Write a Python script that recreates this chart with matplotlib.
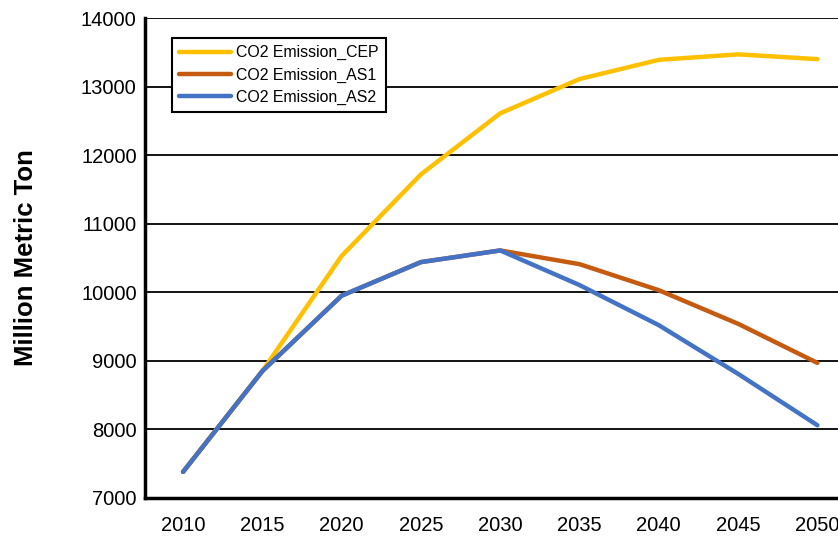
import numpy as np
import matplotlib
matplotlib.use("Agg")
import matplotlib.pyplot as plt

plt.rcParams['font.family'] = ['Liberation Sans', 'DejaVu Sans']

years = [2010, 2015, 2020, 2025, 2030, 2035, 2040, 2045, 2050]
cep = [7380, 8850, 10530, 11720, 12610, 13110, 13390, 13470, 13400]
as1 = [7380, 8850, 9950, 10440, 10610, 10410, 10030, 9540, 8970]
as2 = [7380, 8850, 9950, 10440, 10610, 10105, 9520, 8810, 8060]

names = ['CO2 Emission_CEP', 'CO2 Emission_AS1', 'CO2 Emission_AS2']
colors = ['#FFC000', '#C55A11', '#4472C4']

fig = plt.figure(figsize=(8.38, 5.46), dpi=100)
ax = fig.add_axes([0.173, 0.088, 0.827, 0.879])

for vals, name, c in zip([cep, as1, as2], names, colors):
    ax.plot(years, vals, color=c, lw=3.2, label=name,
            solid_capstyle='round', solid_joinstyle='round', zorder=3)

ax.set_xlim(2007.6, 2051.3)
ax.set_ylim(7000, 14000)
ax.set_xticks(years)
ax.set_yticks(np.arange(7000, 14001, 1000))
ax.yaxis.grid(True, color='black', lw=1.3)
ax.set_axisbelow(True)
ax.tick_params(length=0, labelsize=14.5)
ax.tick_params(axis='x', pad=13)
ax.tick_params(axis='y', pad=6)

for s in ['top', 'right']:
    ax.spines[s].set_visible(False)
for s in ['left', 'bottom']:
    ax.spines[s].set_linewidth(2.5)

ax.set_ylabel('Million Metric Ton', fontsize=18.5, fontweight='bold', labelpad=31)

leg = ax.legend(loc='upper left', bbox_to_anchor=(0.039, 0.958), borderaxespad=0,
                fontsize=11.4, fancybox=False, framealpha=1, edgecolor='black',
                handlelength=3.3, handletextpad=0.3, labelspacing=0.45,
                borderpad=0.45)
leg.get_frame().set_linewidth(1.5)
leg.set_zorder(5)

fig.savefig('out.png', dpi=100)
